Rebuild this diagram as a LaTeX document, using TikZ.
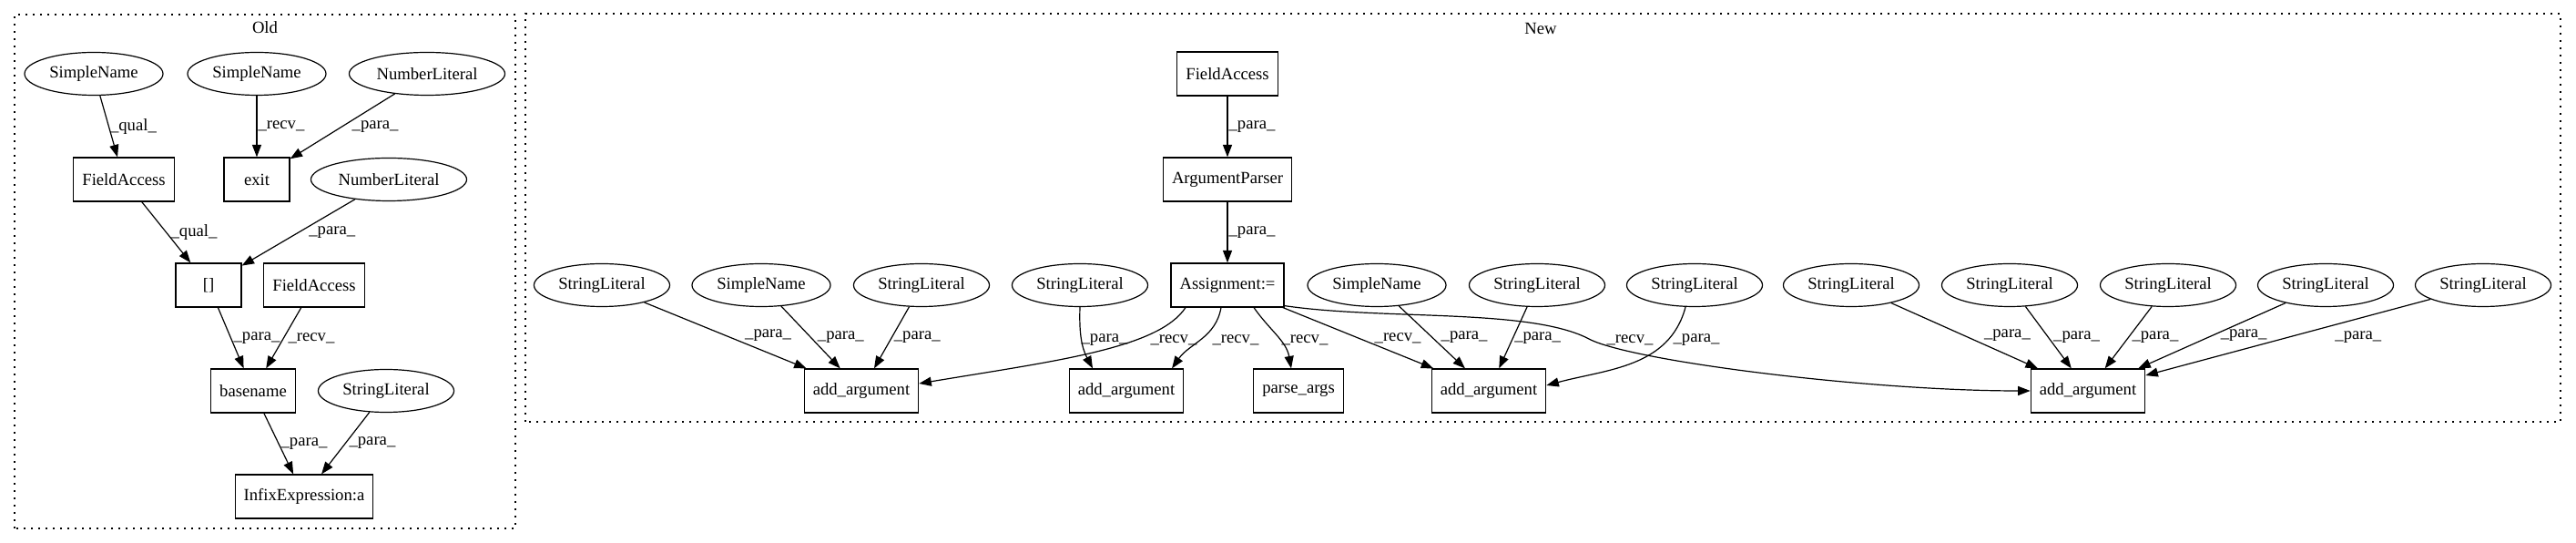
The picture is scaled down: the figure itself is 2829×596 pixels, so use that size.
\documentclass[tikz,border=0pt]{standalone}
\usepackage{fontspec}
\setmainfont{Liberation Serif}
\usetikzlibrary{shapes.geometric, arrows.meta}

\begin{document}
\begin{tikzpicture}[x=1pt, y=1pt, font=\fontsize{18.67}{22}\selectfont, node distance={116pt}, line width=1.2pt, >={Triangle[length=13.5pt, width=10pt]}, main/.style = {draw, ellipse, minimum height=47pt, inner xsep=5pt}, box/.style = {draw, rectangle, minimum height=48pt, minimum width=72pt, inner xsep=9.5pt}, lbl/.style = {right, inner sep=1pt}, cluster/.style = {draw, dash pattern=on 1.6pt off 6.4pt}]
                    \useasboundingbox (0,0) rectangle (2829,596);
                    \draw[cluster] (16,16) rectangle (566,580);
                    \draw[cluster] (577,133) rectangle (2812,581);
                    \node (old) at (291,566) {Old};
                    \node (new) at (1692,565) {New};
                    % Old
                    \node[main] (o0) at (103,515) {SimpleName};
                    \node[main] (o1) at (282,515) {SimpleName};
                    \node[main] (o2) at (469,515) {NumberLiteral};
                    \node[box] (o3) at (136,399) {FieldAccess};
                    \node[box] (o4) [below of=o1] {exit};
                    \node[main] (o5) at (427,399) {NumberLiteral};
                    \node[box] (o6) at (229,283) {[]};
                    \node[box] (o7) at (345,283) {FieldAccess};
                    \node[box] (o8) at (278,167) {basename};
                    \node[main] (o9) at (424,167) {StringLiteral};
                    \node[box] (o10) at (334,51) {InfixExpression:a};
                    \draw[->] (o0) -- node[lbl, midway] {\_qual\_} (o3);
                    \draw[->] (o1) -- node[lbl, midway] {\_recv\_} (o4);
                    \draw[->] (o2) -- node[lbl, midway, xshift=9pt] {\_para\_} (o4);
                    \draw[->] (o3) -- node[lbl, midway, xshift=3.5pt] {\_qual\_} (o6);
                    \draw[->] (o5) -- node[lbl, midway, xshift=10pt] {\_para\_} (o6);
                    \draw[->] (o6) -- node[lbl, midway, xshift=1.5pt] {\_para\_} (o8);
                    \draw[->] (o7) -- node[lbl, midway, xshift=3.5pt] {\_recv\_} (o8);
                    \draw[->] (o8) -- node[lbl, midway, xshift=1pt] {\_para\_} (o10);
                    \draw[->] (o9) -- node[lbl, midway, xshift=2.5pt] {\_para\_} (o10);
                    % New
                    \node[box] (n0) at (1348,515) {FieldAccess};
                    \node[box] (n1) [below of=n0] {ArgumentParser};
                    \node[box] (n2) [below of=n1] {Assignment:=};
                    \node[main] (s0) at (661,283) {StringLiteral};
                    \node[main] (s1) at (836,283) {SimpleName};
                    \node[main] (s2) at (1012,283) {StringLiteral};
                    \node[main] (s3) at (1186,283) {StringLiteral};
                    \node[main] (s4) at (1512,283) {SimpleName};
                    \node[main] (s5) at (1688,283) {StringLiteral};
                    \node[main] (s6) at (1861,283) {StringLiteral};
                    \node[main] (s7) at (2033,283) {StringLiteral};
                    \node[main] (s8) at (2207,283) {StringLiteral};
                    \node[main] (s9) at (2381,283) {StringLiteral};
                    \node[main] (s10) at (2554,283) {StringLiteral};
                    \node[main] (s11) at (2727,283) {StringLiteral};
                    \node[box] (a0) at (946,167) {add\_argument};
                    \node[box] (a1) at (1237,167) {add\_argument};
                    \node[box] (a2) at (1426,167) {parse\_args};
                    \node[box] (a3) at (1635,167) {add\_argument};
                    \node[box] (a4) at (2293,167) {add\_argument};
                    \coordinate (k0) at (1745,224);
                    \draw[->] (n0) -- node[lbl, midway] {\_para\_} (n1);
                    \draw[->] (n1) -- node[lbl, midway] {\_para\_} (n2);
                    \draw[->] (s0) -- node[lbl, midway, xshift=20pt] {\_para\_} (a0);
                    \draw[->] (s1) -- node[lbl, midway, xshift=6pt] {\_para\_} (a0);
                    \draw[->] (s2) -- node[lbl, midway, xshift=1pt] {\_para\_} (a0);
                    \draw[->] (s3.south) to[out=-92, in=118] ([xshift=-37pt]a1.north) node[lbl] at (1186,223) {\_para\_};
                    \draw[->] ([xshift=-46pt]n2.south) .. controls +(-30,-45) and +(150,25) .. ([yshift=8pt]a0.east) node[lbl] at (1262,223) {\_recv\_};
                    \draw[->] ([xshift=-7pt]n2.south) to[out=-100, in=55] ([xshift=50pt]a1.north) node[lbl] at (1330,223) {\_recv\_};
                    \draw[->] ([xshift=29pt]n2.south) to[out=-55, in=100] ([xshift=-8pt]a2.north) node[lbl] at (1406,223) {\_recv\_};
                    \draw[->] (n2) -- node[lbl, midway, xshift=16.5pt] {\_recv\_} (a3);
                    \draw[->] ([yshift=2pt]n2.south east) .. controls +(109,-16) and +(-65,34) .. (k0) .. controls +(45,-24) and +(-180,0) .. (a4.west) node[lbl] at (1763,223) {\_recv\_};
                    \draw[->] (s4) -- node[lbl, midway, xshift=8.5pt] {\_para\_} (a3);
                    \draw[->] (s5) -- node[lbl, midway] {\_para\_} (a3);
                    \draw[->] ([xshift=-10pt]s6.south) to[out=-105, in=15] ([yshift=6pt]a3.east) node[lbl] at (1836,223) {\_para\_};
                    \draw[->] (s7) -- node[lbl, midway, xshift=20pt] {\_para\_} (a4);
                    \draw[->] (s8) -- node[lbl, midway, xshift=4pt] {\_para\_} (a4);
                    \draw[->] (s9) -- node[lbl, midway, xshift=2.5pt] {\_para\_} (a4);
                    \draw[->] (s10) -- node[lbl, midway, xshift=8pt] {\_para\_} (a4);
                    \draw[->] (s11) -- node[lbl, midway, xshift=50pt] {\_para\_} (a4);
                \end{tikzpicture}
\end{document}
